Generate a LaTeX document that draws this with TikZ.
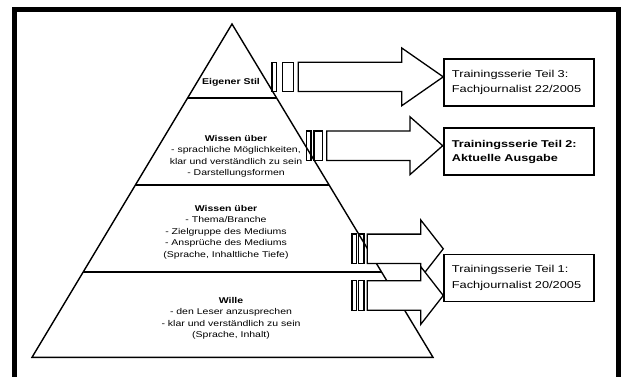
\documentclass[tikz,border=0pt]{standalone}
\usepackage{fontspec}
\setmainfont{Liberation Sans}
\newfontfamily\pyrfont[FakeStretch=1.25]{Liberation Sans}
\newfontfamily\boxfont[FakeStretch=1.28]{Liberation Sans}
\usetikzlibrary{calc}
\tikzset{
  frame/.style={line width=4.5pt},
  pyr/.style={line width=1.4pt, line join=miter},
  tiertext/.style={font=\pyrfont\fontsize{8.4}{11.5}\selectfont, align=center, inner sep=0pt},
  tbox/.style={draw, line width=1.3pt, minimum width=150pt, minimum height=47pt,
    text width=134pt, inner xsep=8pt, inner ysep=0pt, align=left,
    font=\boxfont\fontsize{10}{15.5}\selectfont},
  tboxbold/.style={tbox, line width=2.4pt, font=\boxfont\bfseries\fontsize{9.9}{14}\selectfont},
  arr/.style={line width=1.3pt, line join=miter}
}
\newcommand\stripearrow[8]{%
  \coordinate (yc) at (0,#7);
  \draw[arr] (#1,#7-14.7) rectangle (#2,#7+14.7);
  \draw[arr] (#3,#7-14.7) rectangle (#4,#7+14.7);
  \draw[arr,fill=white] (#5,#7-14.7) -- (#6,#7-14.7) -- (#6,#7-28.9) -- (#8.west |- yc)
    -- (#6,#7+28.9) -- (#6,#7+14.7) -- (#5,#7+14.7) -- cycle;
}
\begin{document}
\begin{tikzpicture}[x=1pt,y=-1pt]
\useasboundingbox (0,0) rectangle (628,376);
\clip (0,0) rectangle (628,376);
\fill[white] (0,0) rectangle (628,376);
\draw[frame] (14.5,9.3) rectangle (618.7,400);

% pyramid
\coordinate (apex) at (232,24);
\coordinate (bl) at (32,357.3);
\coordinate (br) at (433,357.3);
\draw[pyr,fill=white] (apex) -- (br) -- (bl) -- cycle;
\draw[pyr] ($(apex)!0.222!(bl)$) -- ($(apex)!0.222!(br)$);
\draw[pyr] ($(apex)!0.483!(bl)$) -- ($(apex)!0.483!(br)$);
\draw[pyr] ($(apex)!0.744!(bl)$) -- ($(apex)!0.744!(br)$);

\node[tiertext] (t1) at (231,82) {\textbf{Eigener Stil}};
\node[tiertext] (t2) at (236,156.5) {\textbf{Wissen über}\\- sprachliche Möglichkeiten,\\klar und verständlich zu sein\\- Darstellungsformen};
\node[tiertext] (t3) at (226,232) {\textbf{Wissen über}\\- Thema/Branche\\- Zielgruppe des Mediums\\- Ansprüche des Mediums\\(Sprache, Inhaltliche Tiefe)};
\node[tiertext] (t4) at (231,318.5) {\textbf{Wille}\\- den Leser anzusprechen\\- klar und verständlich zu sein\\(Sprache, Inhalt)};

% boxes
\node[tbox] (b3) at (518.9,82.5) {Trainingsserie Teil 3:\\Fachjournalist 22/2005};
\node[tboxbold] (b2) at (518.9,151.5) {Trainingsserie Teil 2:\\Aktuelle Ausgabe};
\node[tbox] (b1) at (518.9,278) {Trainingsserie Teil 1:\\Fachjournalist 20/2005};

% arrows
\stripearrow{272}{276.7}{282.7}{293.3}{298.3}{401.7}{76.85}{b3}
\stripearrow{306.3}{311}{314}{322.3}{326.7}{410}{145.7}{b2}
\stripearrow{352}{356.7}{358.7}{364}{367.3}{420.7}{248.8}{b1}
\stripearrow{352}{356.7}{358.7}{364}{367.3}{420.7}{295.5}{b1}
\end{tikzpicture}
\end{document}
